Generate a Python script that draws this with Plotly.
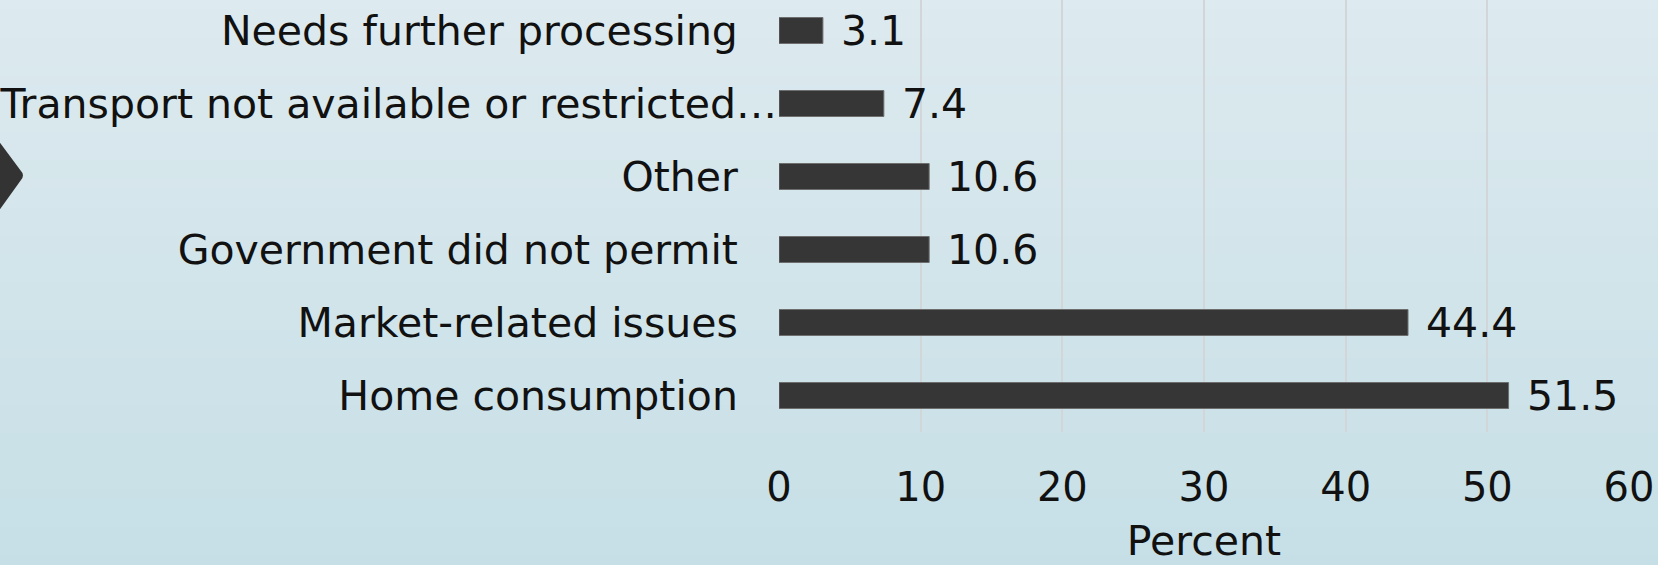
import plotly.graph_objects as go

# ---- data ----
categories = [
    "Home consumption",
    "Market-related issues",
    "Government did not permit",
    "Other",
    "Transport not available or restricted…",
    "Needs further processing",
]
values = [51.5, 44.4, 10.6, 10.6, 7.4, 3.1]
x_ticks = [0, 10, 20, 30, 40, 50, 60]
x_title = "Percent"

# ---- layout geometry (pixels) ----
W, H = 1658, 565
L, R, T, B = 779, 29, 0, 133
PW, PH = W - L - R, H - T - B
FONT = "DejaVu Sans"
TXT = "#111111"
BAR = "#363636"


def px_to_paper(px, py):
    return (px - L) / PW, (H - B - py) / PH


# label padding so regular labels sit ~40px left of the axis while the
# truncated label runs up to the axis as in the original
pad = "\u00a0" * 3
ticktext = [c if c.endswith("…") else c + pad for c in categories]

fig = go.Figure()
fig.add_trace(
    go.Bar(
        x=values,
        y=categories,
        orientation="h",
        width=0.356,
        marker=dict(color=BAR, line=dict(color="#6e6e6e", width=1)),
        hoverinfo="x+y",
    )
)

# value labels
annotations = [
    dict(
        x=v, y=c, xref="x", yref="y", text=f"{v:.1f}", showarrow=False,
        xanchor="left", yanchor="middle", xshift=16,
        font=dict(family=FONT, size=41, color=TXT),
    )
    for v, c in zip(values, categories)
]

# background gradient (light top -> slightly deeper blue bottom)
shapes = []
n = 60
top = (221, 234, 239)
bot = (198, 223, 230)
for i in range(n):
    f = (i + 0.5) / n
    col = tuple(round(top[k] + (bot[k] - top[k]) * f) for k in range(3))
    y0p = H * i / n
    y1p = H * (i + 1) / n + 1
    x0, y0 = px_to_paper(-2, y0p)
    x1, y1 = px_to_paper(W + 2, y1p)
    shapes.append(
        dict(type="rect", xref="paper", yref="paper", x0=x0, x1=x1, y0=y1, y1=y0,
             fillcolor="rgb(%d,%d,%d)" % col, line=dict(width=0), layer="below")
    )

# dark chevron at left edge
pts = [(-2, 140), (21, 171), (25, 175), (21, 180), (-2, 212)]
pp = [px_to_paper(x, y) for x, y in pts]
path = "M %f,%f L %f,%f Q %f,%f %f,%f L %f,%f Z" % (
    pp[0][0], pp[0][1], pp[1][0], pp[1][1], pp[2][0], pp[2][1],
    pp[3][0], pp[3][1], pp[4][0], pp[4][1])
shapes.append(dict(type="path", xref="paper", yref="paper", path=path,
                   fillcolor="#333333", line=dict(width=0), layer="above"))

fig.update_layout(
    width=W, height=H,
    margin=dict(l=L, r=R, t=T, b=B, pad=0, autoexpand=False),
    paper_bgcolor="rgb(210,228,234)",
    plot_bgcolor="rgba(0,0,0,0)",
    showlegend=False,
    shapes=shapes,
    annotations=annotations,
    font=dict(family=FONT, size=41, color=TXT),
    xaxis=dict(
        range=[0, 60], tickvals=x_ticks, ticktext=[str(t) for t in x_ticks],
        showgrid=True, gridcolor="#d3d6d8", gridwidth=2,
        zeroline=False, showline=False, ticks="",
        ticklabelstandoff=28, automargin=False,
        tickfont=dict(family=FONT, size=40, color=TXT),
        title=dict(text=x_title, standoff=37,
                   font=dict(family=FONT, size=41, color=TXT)),
        fixedrange=True,
    ),
    yaxis=dict(
        type="category", categoryorder="array", categoryarray=categories,
        tickvals=categories, ticktext=ticktext,
        range=[-0.5, 5.418],
        showgrid=False, zeroline=False, showline=False, ticks="",
        ticklabelstandoff=1, automargin=False,
        tickfont=dict(family=FONT, size=41, color=TXT),
        fixedrange=True,
    ),
)

fig.write_html(
    "out.html",
    config={"displayModeBar": False},
    post_script="document.body.style.margin='0';document.body.style.overflow='hidden';",
)
